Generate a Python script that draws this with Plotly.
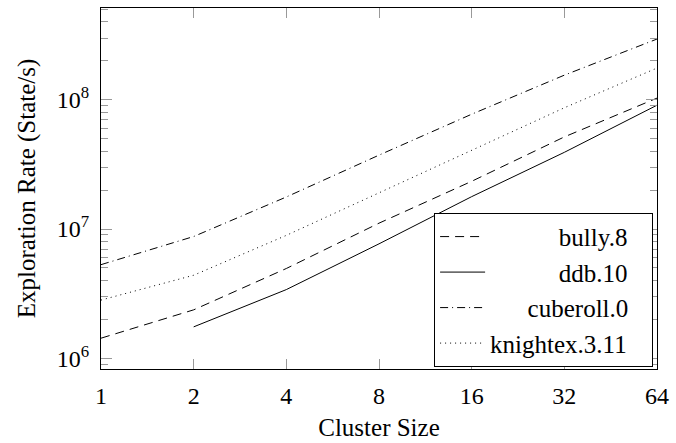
import plotly.graph_objects as go

cluster_sizes = [1, 2, 4, 8, 16, 32, 64]
bully_8 = [1.43e6, 2.37e6, 4.95e6, 1.11e7, 2.34e7, 5.16e7, 1.03e8]
ddb_10 = [None, 1.75e6, 3.4e6, 7.68e6, 1.78e7, 3.92e7, 9.08e7]
cuberoll_0 = [5.3e6, 8.75e6, 1.77e7, 3.73e7, 7.73e7, 1.55e8, 2.95e8]
knightex_3_11 = [2.82e6, 4.39e6, 8.93e6, 1.9e7, 4.07e7, 8.67e7, 1.76e8]

series_names = ["bully.8", "ddb.10", "cuberoll.0", "knightex.3.11"]
x_tick_labels = ["1", "2", "4", "8", "16", "32", "64"]
y_tick_vals = [1e6, 1e7, 1e8]
y_tick_labels = ["10<sup>6</sup>", "10<sup>7</sup>", "10<sup>8</sup>"]

values = [bully_8, ddb_10, cuberoll_0, knightex_3_11]
dashes = ["9px,6px", "solid", "8px,4px,1px,4px", "1px,4px"]

FONT = "Liberation Serif, serif"
NB = "\u00a0"
# leading non-breaking spaces so legend texts appear right-aligned (as in the original)
pads = [11, 11, 6, 0]

fig = go.Figure()
for name, vals, dash, pad in zip(series_names, values, dashes, pads):
    fig.add_trace(go.Scatter(
        x=cluster_sizes, y=vals, name=NB * pad + name + NB * 3, mode="lines",
        line=dict(color="black", width=1, dash=dash),
        connectgaps=False,
    ))

fig.update_layout(
    width=676, height=443,
    margin=dict(l=101, r=14, t=7, b=64),
    plot_bgcolor="white", paper_bgcolor="white",
    font=dict(family=FONT, size=24, color="black"),
    legend=dict(
        x=0.993, y=0.006, xanchor="right", yanchor="bottom",
        bordercolor="black", borderwidth=1, bgcolor="white",
        font=dict(family=FONT, size=25),
        tracegroupgap=0, itemwidth=45,
    ),
    showlegend=True,
)

fig.update_xaxes(
    type="log", range=[0, 1.80618],
    tickvals=cluster_sizes, ticktext=x_tick_labels,
    ticks="inside", ticklen=10, tickcolor="#999999", tickwidth=1,
    ticklabelstandoff=5,
    showline=True, linecolor="black", linewidth=1, mirror="ticks",
    showgrid=False, zeroline=False,
    title=dict(text="Cluster Size", font=dict(size=25), standoff=10),
)
fig.update_yaxes(
    type="log", range=[5.917, 8.71],
    tickvals=y_tick_vals, ticktext=y_tick_labels,
    ticks="inside", ticklen=11, tickcolor="#999999", tickwidth=1,
    ticklabelstandoff=6,
    minor=dict(ticks="inside", ticklen=7, tickcolor="#999999", dtick="D1", showgrid=False),
    showline=True, linecolor="black", linewidth=1, mirror="ticks",
    showgrid=False, zeroline=False,
    title=dict(text="Exploration Rate (State/s)", font=dict(size=25), standoff=14),
)

fig.write_html("out.html", config={"displayModeBar": False},
               post_script="document.body.style.margin='0';")
